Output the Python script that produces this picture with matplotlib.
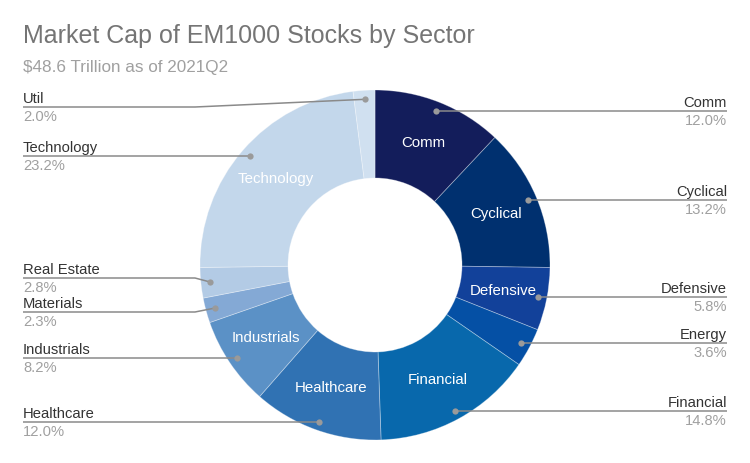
import numpy as np
import matplotlib
matplotlib.use("Agg")
import matplotlib.pyplot as plt

# ---- data ----
sectors = ["Comm", "Cyclical", "Defensive", "Energy", "Financial", "Healthcare",
           "Industrials", "Materials", "Real Estate", "Technology", "Util"]
shares = [12.0, 13.2, 5.8, 3.6, 14.8, 12.0, 8.2, 2.3, 2.8, 23.2, 2.0]
colors = ["#131d5b", "#00306f", "#12419a", "#0550a5", "#0868ac", "#3072b3",
          "#5b91c6", "#84a9d5", "#b3cbe5", "#c3d7eb", "#d0e0f0"]
title = "Market Cap of EM1000 Stocks by Sector"
subtitle = "$48.6 Trillion as of 2021Q2"

# ---- layout (pixels from top) ----
label_y_px = {"Comm": 111, "Cyclical": 200, "Defensive": 297, "Energy": 343,
              "Financial": 411, "Healthcare": 422, "Industrials": 358,
              "Materials": 312, "Real Estate": 278, "Technology": 156, "Util": 107}

W, H = 750, 463
fig = plt.figure(figsize=(W / 100, H / 100), dpi=100)
ax = fig.add_axes([0, 0, 1, 1])
ax.set_xlim(0, W)
ax.set_ylim(0, H)
ax.set_aspect("equal")
ax.axis("off")

plt.rcParams["font.family"] = ["Liberation Sans", "DejaVu Sans"]

def Y(p):
    return H - p

cx, cy = 375, Y(265)
R = 175
width = 88

wedges, _ = ax.pie(shares, colors=colors, startangle=90, counterclock=False,
                   center=(cx, cy), radius=R, normalize=True,
                   wedgeprops=dict(width=width, edgecolor=(1, 1, 1, 0.35), linewidth=0.6))
ax.set_xlim(0, W)
ax.set_ylim(0, H)

fs = 10.6
line_col = "#8a8a8a"
for w, name, val in zip(wedges, sectors, shares):
    ang = np.deg2rad((w.theta1 + w.theta2) / 2)
    # inside label
    if val >= 5:
        rm = 131
        ax.text(cx + rm * np.cos(ang), cy + rm * np.sin(ang), name, color="white",
                fontsize=10.8, ha="center", va="center")
    # dot + leader
    rd = 166
    dx, dy = cx + rd * np.cos(ang), cy + rd * np.sin(ang)
    ly = Y(label_y_px[name])
    right = np.cos(ang) > 0
    if right:
        xe, elbow = 727, 557
        ha = "right"
    else:
        xe, elbow = 23, 195
        ha = "left"
    if abs(dy - ly) > 1.5:
        xs = [dx, elbow, xe]
        ys = [dy, ly, ly]
    else:
        xs = [dx, xe]
        ys = [ly, ly]
    ax.plot(xs, ys, color=line_col, lw=1.1, solid_capstyle="butt", zorder=3)
    ax.plot([dx], [dy if abs(dy - ly) > 1.5 else ly], "o", color="#9a9a9a", ms=4.5,
            mec="none", zorder=4)
    ax.text(xe, ly + 4, name, color="#333333", fontsize=fs, ha=ha, va="baseline")
    ax.text(xe, ly - 14, f"{val:.1f}%", color="#a0a0a0", fontsize=fs, ha=ha, va="baseline")

ax.text(23, Y(43), title, color="#757575", fontsize=18, ha="left", va="baseline")
ax.text(23, Y(72), subtitle, color="#a0a0a0", fontsize=12.3, ha="left", va="baseline")

fig.savefig("out.png", dpi=100)
